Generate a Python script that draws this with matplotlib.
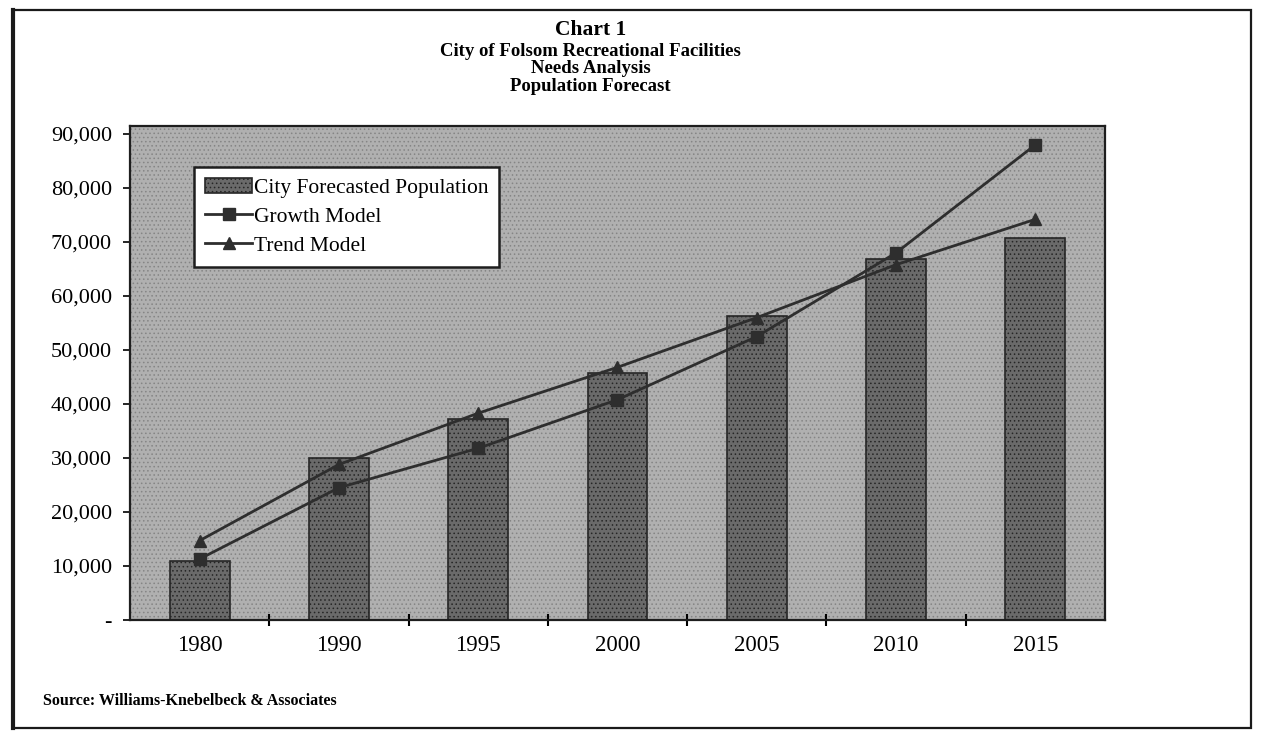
"""Chart 1 - City of Folsom population forecast (bars + two model lines)."""

import matplotlib

matplotlib.use("Agg")
import matplotlib.pyplot as plt
from matplotlib.patches import Rectangle
from matplotlib.ticker import FuncFormatter
import numpy as np

YEARS = ["1980", "1990", "1995", "2000", "2005", "2010", "2015"]
CITY_FORECAST = [11000, 30000, 37300, 45800, 56300, 66800, 70800]
GROWTH_MODEL = [11300, 24500, 31800, 40800, 52500, 68000, 88000]
TREND_MODEL = [14700, 28800, 38300, 46800, 56000, 65800, 74200]

SERIF = ["Liberation Serif", "DejaVu Serif"]
LINE_COLOR = "#2e2e2e"


def _ytick(value, _pos):
    if value == 0:
        return "-"
    return f"{int(value):,}"


def main() -> None:
    plt.rcParams["font.family"] = SERIF
    plt.rcParams["hatch.linewidth"] = 0.6

    fig = plt.figure(figsize=(12.62, 7.32), dpi=100)
    fig.patch.set_facecolor("white")

    # outer frame around the whole chart
    fig.add_artist(Rectangle((0.010, 0.006), 0.981, 0.980, transform=fig.transFigure,
                             fill=False, edgecolor="#1a1a1a", linewidth=1.6))
    fig.add_artist(plt.Line2D([0.010, 0.010], [0.006, 0.986], transform=fig.transFigure,
                              color="#1a1a1a", linewidth=3))

    ax = fig.add_axes([0.103, 0.153, 0.7726, 0.675])
    ax.set_facecolor("#b0b0b0")
    ax.add_patch(Rectangle((0, 0), 1, 1, transform=ax.transAxes, facecolor="none",
                           edgecolor="#858585", hatch="....", linewidth=0, zorder=0))

    x = np.arange(len(YEARS))
    ax.bar(x, CITY_FORECAST, width=0.43, color="#6a6a6a", edgecolor="#262626",
           linewidth=1.2, hatch="....", zorder=2, label="City Forecasted Population")
    ax.plot(x, GROWTH_MODEL, color=LINE_COLOR, linewidth=2, marker="s", markersize=9,
            zorder=4, label="Growth Model")
    ax.plot(x, TREND_MODEL, color=LINE_COLOR, linewidth=2, marker="^", markersize=9,
            zorder=4, label="Trend Model")

    ax.set_xlim(-0.5, len(YEARS) - 0.5)
    ax.set_ylim(0, 91500)
    ax.set_yticks(np.arange(0, 90001, 10000))
    ax.yaxis.set_major_formatter(FuncFormatter(_ytick))
    ax.set_xticks(x)
    ax.set_xticklabels(YEARS)
    ax.set_xticks(x[:-1] + 0.5, minor=True)
    ax.tick_params(axis="x", which="major", length=0, labelsize=16.5, pad=11)
    ax.tick_params(axis="x", which="minor", length=8, width=1.5, direction="inout")
    ax.tick_params(axis="y", length=5, width=1.2, direction="out", labelsize=16, pad=8)

    for side in ("top", "right", "left", "bottom"):
        ax.spines[side].set_color("#1e1e1e")
        ax.spines[side].set_linewidth(1.6)

    handles, labels = ax.get_legend_handles_labels()
    order = [2, 0, 1]
    leg = ax.legend([handles[i] for i in order], [labels[i] for i in order],
                    loc="upper left", bbox_to_anchor=(0.066, 0.917), fontsize=15.5,
                    frameon=True, fancybox=False, handlelength=2.2, handletextpad=0.05,
                    borderpad=0.5, labelspacing=0.42, borderaxespad=0)
    leg.get_frame().set_edgecolor("#1e1e1e")
    leg.get_frame().set_linewidth(1.8)
    leg.get_frame().set_facecolor("white")
    leg.get_frame().set_alpha(1)

    title_lines = [
        ("Chart 1", 15.5, 0.959),
        ("City of Folsom Recreational Facilities", 13.5, 0.930),
        ("Needs Analysis", 13.5, 0.906),
        ("Population Forecast", 13.5, 0.882),
    ]
    for text, size, y in title_lines:
        fig.text(0.468, y, text, ha="center", va="center", fontsize=size, weight="bold")

    fig.text(0.034, 0.043, "Source: Williams-Knebelbeck & Associates", ha="left",
             va="center", fontsize=11.5, weight="bold")

    fig.savefig("out.png", dpi=100)
    plt.close(fig)


if __name__ == "__main__":
    main()
